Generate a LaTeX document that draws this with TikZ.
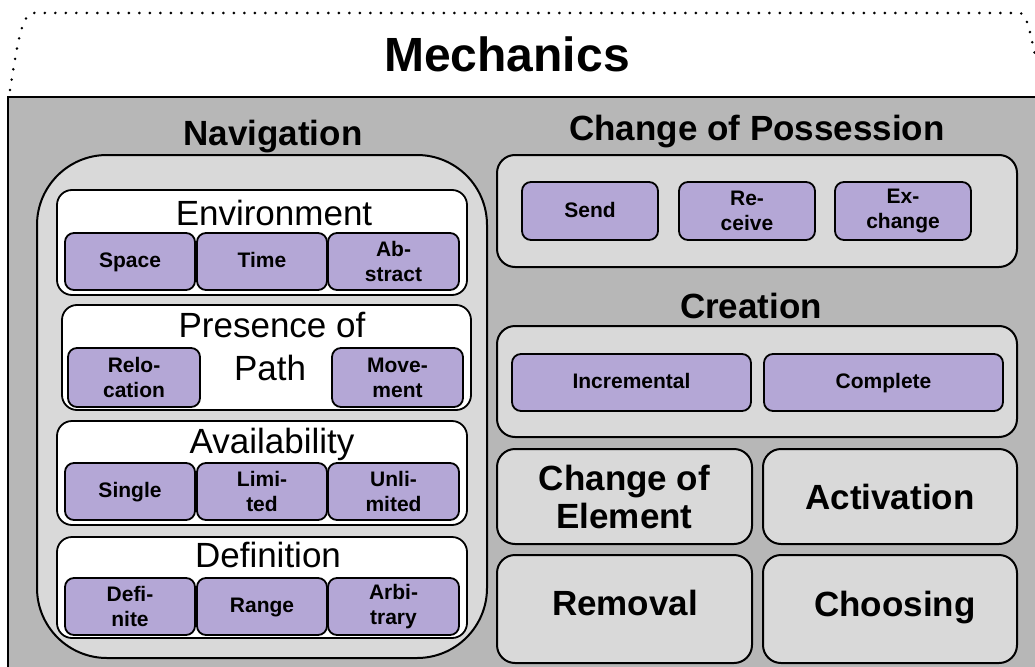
\documentclass[tikz,border=0pt]{standalone}
\usepackage{fontspec}
\setmainfont{Liberation Sans}
\usepackage{tikz}
\usetikzlibrary{positioning}

\definecolor{bggray}{HTML}{B7B7B7}
\definecolor{boxgray}{HTML}{D9D9D9}
\definecolor{lilac}{HTML}{B4A7D6}

\newcommand{\titlefont}{\fontsize{48}{52}\selectfont\bfseries}
\newcommand{\headfont}{\fontsize{35}{38}\selectfont\bfseries}
\newcommand{\subfont}{\fontsize{35}{43}\selectfont}
\newcommand{\leaffont}{\fontsize{21}{25}\selectfont\bfseries}

\tikzset{
    group/.style={draw, line width=2pt, fill=boxgray, rounded corners=18pt, inner sep=0pt},
    subgroup/.style={draw, line width=1.8pt, fill=white, rounded corners=15pt, inner sep=0pt},
    leaf/.style={draw, line width=1.8pt, fill=lilac, rounded corners=9pt, inner sep=0pt,
        align=center, font=\leaffont},
    oneline/.style={text height=17pt, text depth=5pt},
    heading/.style={anchor=base, font=\headfont, inner sep=0pt},
    subhead/.style={anchor=base, font=\subfont, inner sep=0pt}
}

\begin{document}
\begin{tikzpicture}[x=1pt, y=-1pt]
    \useasboundingbox (0, 0) rectangle (1035, 666);
    \begin{scope}
        \clip (0, 0) rectangle (1035, 666);
        \draw[line width=2pt, fill=bggray] (8, 97) rectangle (1050, 690);
    \end{scope}
    \draw[line width=2.8pt, line cap=round, dash pattern=on 0pt off 10.5pt]
        (10, 90) .. controls (18, 40) and (22, 13) .. (34, 13) -- (1020, 13)
        .. controls (1026, 13) and (1030, 30) .. (1036, 60);
    \node[anchor=base, font=\titlefont, inner sep=0pt] (mech) at (507, 72) {Mechanics};

    % navigation
    \node[heading] (navtitle) at (273, 145) {Navigation};
    \node[group, rounded corners=70pt, minimum width=450pt, minimum height=503pt] (nav) at (262, 406.5) {};

    \node[subgroup, minimum width=410pt, minimum height=105pt] (env) at (262, 242.5) {};
    \node[subhead] (envtitle) at (274, 225) {Environment};
    \node[leaf, oneline, minimum width=130pt, minimum height=57pt] (space) at (130, 261.5) {Space};
    \node[leaf, oneline, minimum width=130pt, minimum height=57pt] (time) at (262, 261.5) {Time};
    \node[leaf, minimum width=131pt, minimum height=57pt] (abstract) at (393.5, 261.5) {Ab-\\stract};

    \node[subgroup, minimum width=409pt, minimum height=105pt] (path) at (266.5, 357.5) {};
    \node[subhead] (pathtitle) at (272, 337) {Presence of};
    \node[subhead] (pathtitleb) at (270, 380) {Path};
    \node[leaf, minimum width=132pt, minimum height=59pt] (reloc) at (134, 377.5) {Relo-\\cation};
    \node[leaf, minimum width=131pt, minimum height=59pt] (move) at (397.5, 377.5) {Move-\\ment};

    \node[subgroup, minimum width=410pt, minimum height=104pt] (avail) at (262, 473) {};
    \node[subhead] (availtitle) at (272, 453) {Availability};
    \node[leaf, oneline, minimum width=130pt, minimum height=57pt] (single) at (130, 491.5) {Single};
    \node[leaf, minimum width=130pt, minimum height=57pt] (limited) at (262, 491.5) {Limi-\\ted};
    \node[leaf, minimum width=131pt, minimum height=57pt] (unlimited) at (393.5, 491.5) {Unli-\\mited};

    \node[subgroup, minimum width=410pt, minimum height=101pt] (defn) at (262, 587.5) {};
    \node[subhead] (defntitle) at (268, 567) {Definition};
    \node[leaf, minimum width=130pt, minimum height=57pt] (definite) at (130, 606.5) {Defi-\\nite};
    \node[leaf, oneline, minimum width=130pt, minimum height=57pt] (range) at (262, 606.5) {Range};
    \node[leaf, minimum width=131pt, minimum height=57pt] (arbitrary) at (393.5, 606.5) {Arbi-\\trary};

    % change of possession
    \node[heading] (posstitle) at (757, 140) {Change of Possession};
    \node[group, minimum width=520pt, minimum height=112pt] (poss) at (757, 211) {};
    \node[leaf, oneline, minimum width=136pt, minimum height=58pt] (send) at (590, 211) {Send};
    \node[leaf, minimum width=136pt, minimum height=58pt] (receive) at (747, 211) {Re-\\ceive};
    \node[leaf, minimum width=136pt, minimum height=58pt] (exchange) at (903, 211) {Ex-\\change};

    % creation
    \node[heading] (createtitle) at (751, 318) {Creation};
    \node[group, minimum width=520pt, minimum height=111pt] (create) at (757, 381.5) {};
    \node[leaf, oneline, minimum width=239pt, minimum height=57pt] (incr) at (631.5, 382.5) {Incremental};
    \node[leaf, oneline, minimum width=239pt, minimum height=57pt] (complete) at (883.5, 382.5) {Complete};

    % single mechanics
    \node[group, align=center, font=\headfont, minimum width=255pt, minimum height=95pt] (elem) at (624.5, 496.5) {Change of\\Element};
    \node[group, font=\headfont, minimum width=254pt, minimum height=95pt] (activ) at (890, 496.5) {Activation};
    \node[group, minimum width=255pt, minimum height=108pt] (remove) at (624.5, 609) {};
    \node[font=\headfont] (removetext) at (625, 603) {Removal};
    \node[group, minimum width=254pt, minimum height=108pt] (choose) at (890, 609) {};
    \node[font=\headfont] (choosetext) at (895, 608) {Choosing};
\end{tikzpicture}
\end{document}
